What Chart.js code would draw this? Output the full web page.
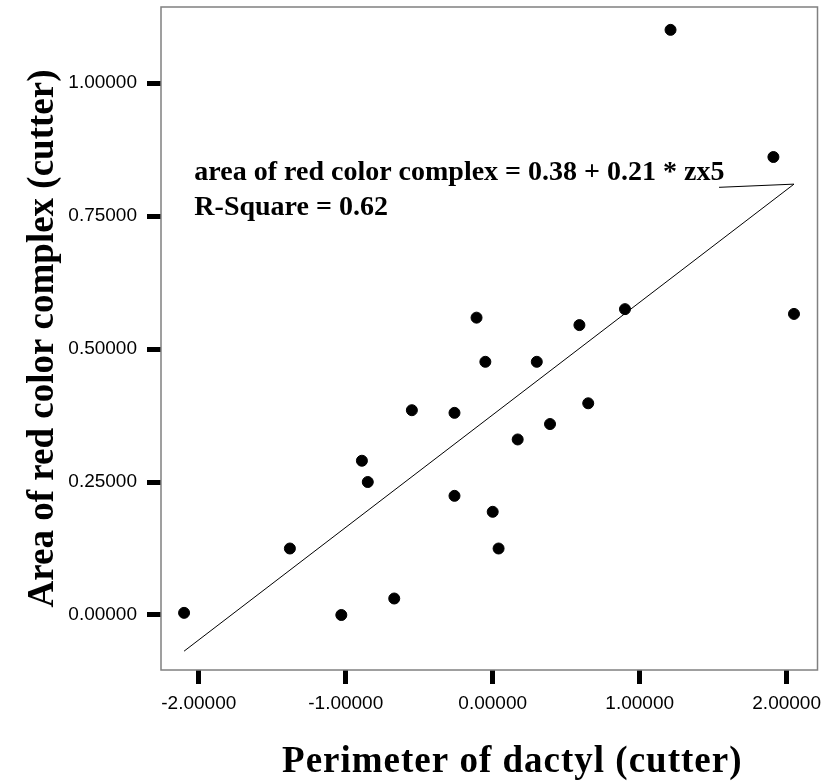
<!DOCTYPE html>
<html>
<head>
<meta charset="utf-8">
<script src="https://cdn.jsdelivr.net/npm/chart.js@4.4.0/dist/chart.umd.min.js"></script>
<style>
  body { margin: 0; background: #fff; }
  #wrap { width: 824px; height: 783px; }
</style>
</head>
<body>
<div id="wrap"><canvas id="myChart"></canvas></div>
<script>
// measured values (z-score perimeter vs area of red color complex)
var perimeter = [-2.10, -1.38, -1.03, -0.89, -0.85, -0.67, -0.55, -0.26, -0.26, -0.11, -0.05,
                 0.00, 0.04, 0.17, 0.30, 0.39, 0.59, 0.65, 0.90, 2.05, 1.21, 1.91];
var redArea   = [0.004, 0.125, 0.000, 0.290, 0.250, 0.031, 0.385, 0.380, 0.224, 0.559, 0.476,
                 0.194, 0.125, 0.330, 0.476, 0.359, 0.545, 0.398, 0.575, 0.566, 1.100, 0.861];

// fitted line end points and the label leader
var fitX = [-2.10, 2.05];
var fitY = [-0.068, 0.81];
var leaderX = [1.54, 2.05];
var leaderY = [0.804, 0.81];

var xTicks = [-2, -1, 0, 1, 2];
var yTicks = [0, 0.25, 0.5, 0.75, 1];

var noteLines = ['area of red color complex = 0.38 + 0.21 * zx5', 'R-Square = 0.62'];
var noteX = -2.03;
var noteY = [0.818, 0.752];

var xTitle = 'Perimeter of dactyl (cutter)';

function pairs(xs, ys) {
  return xs.map(function (x, i) { return { x: x, y: ys[i] }; });
}

function noPad(s) {
  s.paddingLeft = 0; s.paddingRight = 0; s.paddingTop = 0; s.paddingBottom = 0;
}

var boxPlugin = {
  id: 'box',
  afterDatasetsDraw: function (chart) {
    var ctx = chart.ctx, a = chart.chartArea;
    ctx.save();
    ctx.strokeStyle = '#808080';
    ctx.lineWidth = 1.5;
    ctx.strokeRect(a.left, a.top, a.right - a.left, a.bottom - a.top);

    // equation text
    var xs = chart.scales.x, ys = chart.scales.y;
    ctx.fillStyle = '#000';
    ctx.font = 'bold 28px "Liberation Serif"';
    ctx.textBaseline = 'alphabetic';
    noteLines.forEach(function (t, i) {
      ctx.fillText(t, xs.getPixelForValue(noteX), ys.getPixelForValue(noteY[i]));
    });

    // x axis title, a bit spaced out like the original
    ctx.font = 'bold 37px "Liberation Serif"';
    ctx.letterSpacing = '1px';
    ctx.textAlign = 'center';
    ctx.fillText(xTitle, (a.left + a.right) / 2 + 23, chart.height - 11);
    ctx.restore();
  }
};

new Chart('myChart', {
  type: 'scatter',
  data: {
    datasets: [{
      data: pairs(perimeter, redArea),
      backgroundColor: '#000',
      borderColor: '#000',
      pointRadius: 5.5,
      pointHoverRadius: 5.5
    }, {
      type: 'line',
      data: pairs(fitX, fitY),
      borderColor: '#000',
      borderWidth: 1,
      pointRadius: 0,
      fill: false
    }, {
      type: 'line',
      data: pairs(leaderX, leaderY),
      borderColor: '#000',
      borderWidth: 1,
      pointRadius: 0,
      fill: false
    }]
  },
  options: {
    responsive: true,
    maintainAspectRatio: false,
    animation: false,
    layout: { padding: { top: 7, right: 3, left: 0, bottom: 0 } },
    plugins: { legend: { display: false }, tooltip: { enabled: false } },
    scales: {
      x: {
        type: 'linear',
        min: -2.257,
        max: 2.21,
        afterFit: function (s) { s.height = 113; noPad(s); },
        afterBuildTicks: function (s) { s.ticks = xTicks.map(function (v) { return { value: v }; }); },
        border: { display: false },
        grid: { drawOnChartArea: false, tickLength: 14, tickWidth: 5, tickColor: '#000' },
        ticks: {
          padding: 8,
          color: '#000',
          font: { family: 'Liberation Sans', size: 19 },
          maxRotation: 0,
          callback: function (v) { return v.toFixed(5); }
        }
      },
      y: {
        type: 'linear',
        min: -0.1034,
        max: 1.143,
        afterFit: function (s) { s.width = 161; noPad(s); },
        afterBuildTicks: function (s) { s.ticks = yTicks.map(function (v) { return { value: v }; }); },
        border: { display: false },
        grid: { drawOnChartArea: false, tickLength: 14, tickWidth: 5, tickColor: '#000' },
        ticks: {
          padding: 10,
          color: '#000',
          font: { family: 'Liberation Sans', size: 19 },
          callback: function (v) { return v.toFixed(5); }
        },
        title: {
          display: true,
          text: 'Area of red color complex (cutter)',
          color: '#000',
          font: { family: 'Liberation Serif', size: 37, weight: 'bold' },
          padding: { top: 21, bottom: 0 }
        }
      }
    }
  },
  plugins: [boxPlugin]
});
</script>
</body>
</html>
